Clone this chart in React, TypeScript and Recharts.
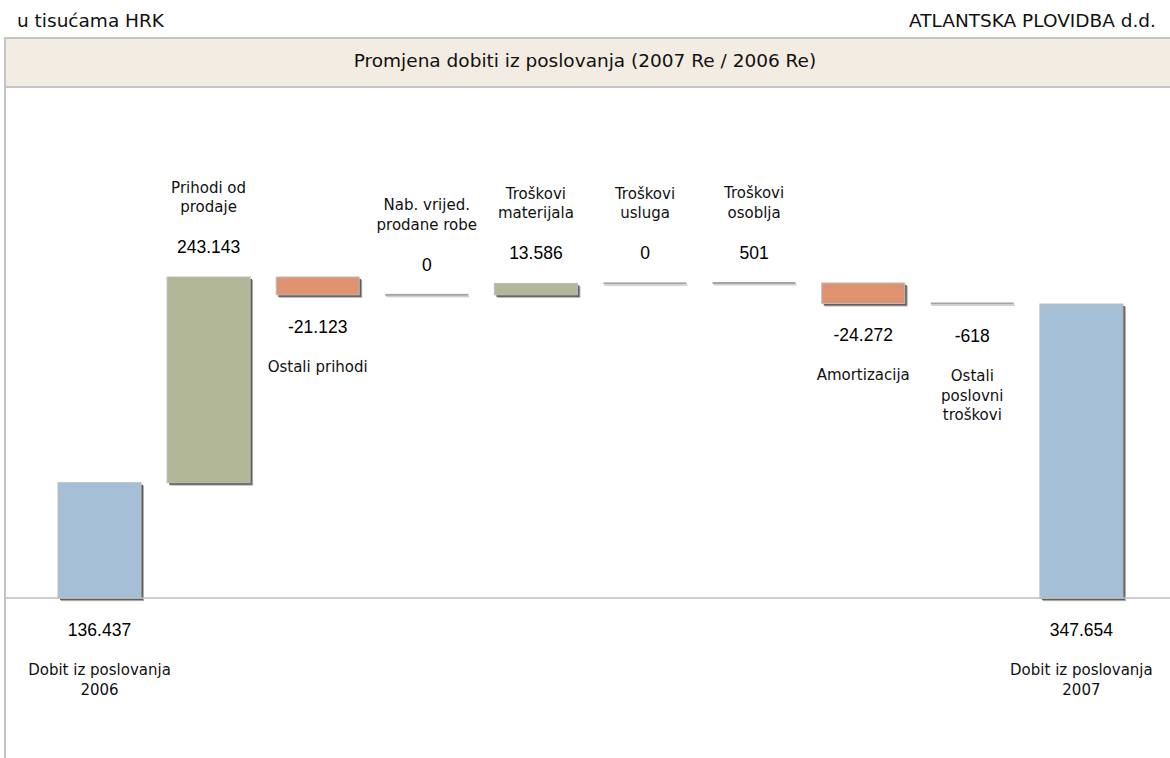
import React from 'react';
import { BarChart, Bar, XAxis, YAxis, ReferenceLine } from 'recharts';

// u tisućama HRK
const categories = [
  'Dobit iz poslovanja\n2006',
  'Prihodi od\nprodaje',
  'Ostali prihodi',
  'Nab. vrijed.\nprodane robe',
  'Troškovi\nmaterijala',
  'Troškovi\nusluga',
  'Troškovi\nosoblja',
  'Amortizacija',
  'Ostali\nposlovni\ntroškovi',
  'Dobit iz poslovanja\n2007',
];
const kinds = ['total', 'delta', 'delta', 'delta', 'delta', 'delta', 'delta', 'delta', 'delta', 'total'];
const values = [136437, 243143, -21123, 0, 13586, 0, 501, -24272, -618, 347654];

const colors = { total: '#a5bfd6', up: '#b2b897', down: '#e0936f' };

const fmt = (n: number) => {
  const s = Math.abs(n).toString().replace(/\B(?=(\d{3})+(?!\d))/g, '.');
  return (n < 0 ? '-' : '') + s;
};

// build waterfall ranges
let running = 0;
const data = categories.map((name, i) => {
  const v = values[i];
  let range: [number, number];
  if (kinds[i] === 'total') {
    range = [0, v];
    running = v;
  } else {
    const next = running + v;
    range = [Math.min(running, next), Math.max(running, next)];
    running = next;
  }
  return { name, value: v, kind: kinds[i], range };
});

const labelFont = '"DejaVu Sans", sans-serif';
const valueFont = '"Liberation Sans", Arial, sans-serif';

const WaterfallBar = (props: any) => {
  const { x, y, width, height, payload } = props;
  const top = Math.min(y, y + height);
  const h = Math.abs(height);
  const bottom = top + h;
  const cx = x + width / 2;
  const kind = payload.kind;
  const v = payload.value;
  const fill = kind === 'total' ? colors.total : v >= 0 ? colors.up : colors.down;
  const lines: string[] = payload.name.split('\n');
  const above = kind !== 'total' && v >= 0;

  const mark = h < 2.5 ? (
    <g>
      <rect x={x} y={top - 1} width={width} height={2} fill="#a4a4a4" />
      <rect x={x + 1} y={top + 1} width={width} height={1.5} fill="#cfcfcf" />
    </g>
  ) : (
    <g>
      <rect x={x + 3} y={top + 3} width={width} height={h} fill="#b0b0b0" />
      <rect x={x + 2} y={top + 2} width={width} height={h} fill="#5f5f5f" />
      <rect x={x} y={top} width={width} height={h} fill={fill} stroke="#bdbdbd" strokeWidth={1} />
    </g>
  );

  let texts;
  if (above) {
    texts = (
      <g>
        <text x={cx} y={top - 30} textAnchor="middle" dominantBaseline="central" fontFamily={valueFont} fontSize={17.5} fill="#000">
          {fmt(v)}
        </text>
        {lines.map((l, i) => (
          <text key={i} x={cx} y={top - 70 - (lines.length - 1 - i) * 19.5} textAnchor="middle" dominantBaseline="central" fontFamily={labelFont} fontSize={15} fill="#111">
            {l}
          </text>
        ))}
      </g>
    );
  } else {
    texts = (
      <g>
        <text x={cx} y={bottom + 32} textAnchor="middle" dominantBaseline="central" fontFamily={valueFont} fontSize={17.5} fill="#000">
          {fmt(v)}
        </text>
        {lines.map((l, i) => (
          <text key={i} x={cx} y={bottom + 72 + i * 19.5} textAnchor="middle" dominantBaseline="central" fontFamily={labelFont} fontSize={15} fill="#111">
            {l}
          </text>
        ))}
      </g>
    );
  }

  return (
    <g>
      {mark}
      {texts}
    </g>
  );
};

const App: React.FC = () => {
  return (
    <div style={{ position: 'absolute', left: 0, top: 0, width: 1170, height: 758, background: '#fff', overflow: 'hidden' }}>
      <div style={{ position: 'absolute', left: 17, top: 10, fontFamily: labelFont, fontSize: 18.5, color: '#111' }}>u tisućama HRK</div>
      <div style={{ position: 'absolute', right: 14, top: 10, fontFamily: labelFont, fontSize: 18.5, color: '#111' }}>ATLANTSKA PLOVIDBA d.d.</div>
      <div
        style={{
          position: 'absolute',
          left: 4,
          top: 37,
          width: 1180,
          height: 51,
          background: '#f3ece2',
          borderTop: '2px solid #c4c4c4',
          borderBottom: '2px solid #c4c4c4',
          borderLeft: '2px solid #c4c4c4',
          boxSizing: 'border-box',
        }}
      />
      <div
        style={{
          position: 'absolute',
          left: 0,
          top: 50,
          width: 1170,
          textAlign: 'center',
          fontFamily: labelFont,
          fontSize: 18.5,
          color: '#111',
        }}
      >
        Promjena dobiti iz poslovanja (2007 Re / 2006 Re)
      </div>
      <div style={{ position: 'absolute', left: 4, top: 86, width: 2, height: 680, background: '#c4c4c4' }} />
      <div style={{ position: 'absolute', left: 0, top: 88 }}>
        <BarChart width={1170} height={670} data={data} margin={{ top: 0, right: 0, bottom: 0, left: 6 }} barSize={83}>
          <XAxis dataKey="name" hide padding={{ left: 39, right: 34 }} />
          <YAxis hide domain={[-189000, 603000]} allowDataOverflow />
          <ReferenceLine y={0} stroke="#bcbcbc" strokeWidth={1.5} />
          <Bar dataKey="range" isAnimationActive={false} shape={(p: any) => <WaterfallBar {...p} />} />
        </BarChart>
      </div>
    </div>
  );
};

export default App;
